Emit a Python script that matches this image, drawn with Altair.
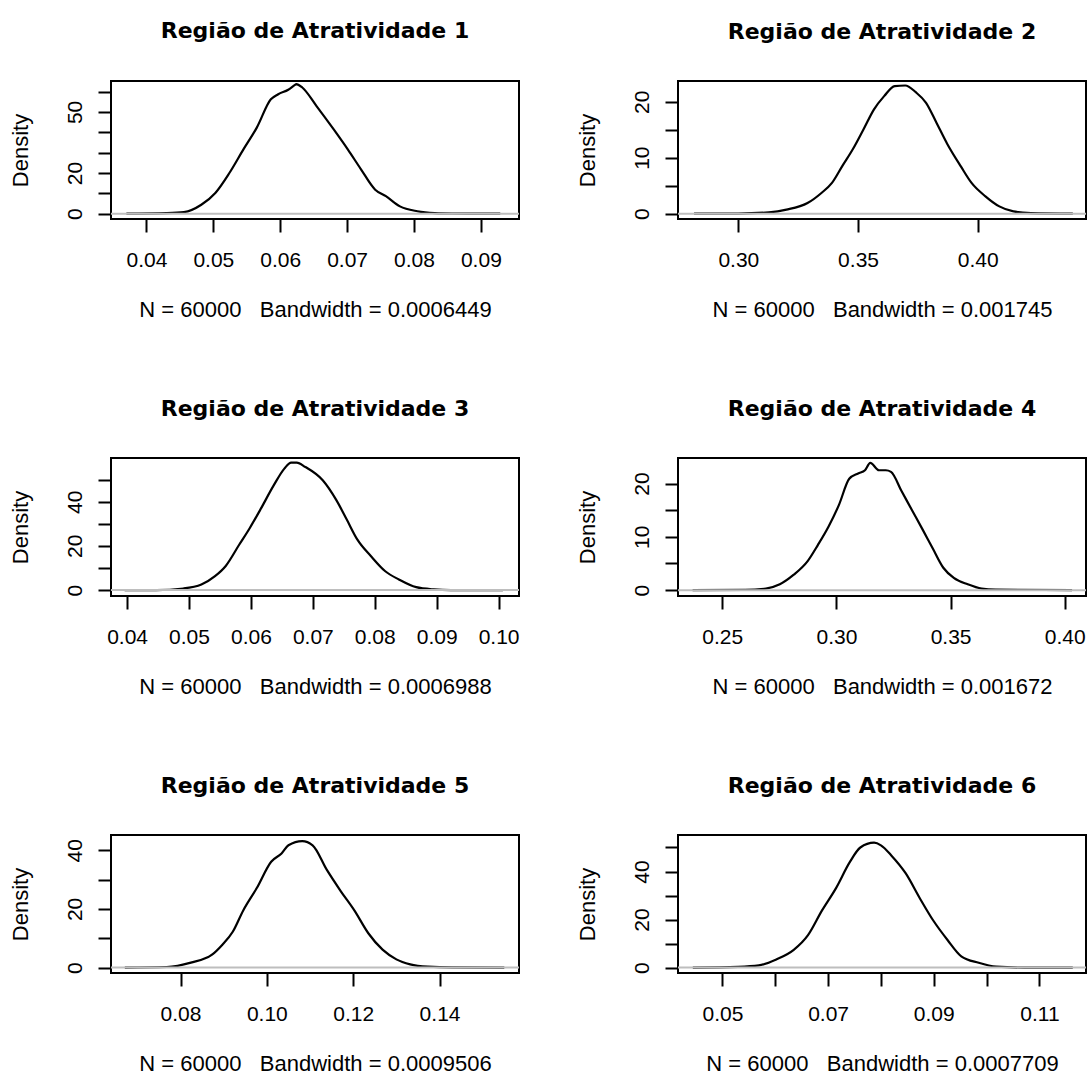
import altair as alt
import pandas as pd

# ---------------- data ----------------
titles = [
    "Região de Atratividade 1", "Região de Atratividade 2",
    "Região de Atratividade 3", "Região de Atratividade 4",
    "Região de Atratividade 5", "Região de Atratividade 6",
]
SP = "\u00a0\u00a0\u00a0"
subtitles = [
    "N = 60000" + SP + "Bandwidth = 0.0006449",
    "N = 60000" + SP + "Bandwidth = 0.001745",
    "N = 60000" + SP + "Bandwidth = 0.0006988",
    "N = 60000" + SP + "Bandwidth = 0.001672",
    "N = 60000" + SP + "Bandwidth = 0.0009506",
    "N = 60000" + SP + "Bandwidth = 0.0007709",
]

p1_x = [0.0370, 0.0430, 0.0456, 0.0482, 0.0503, 0.0524, 0.0545, 0.0565, 0.0586, 0.0597,
        0.0612, 0.0622, 0.0624, 0.0633, 0.0654, 0.0680, 0.0701, 0.0721, 0.0742, 0.0758,
        0.0779, 0.0805, 0.0831, 0.0857, 0.0929]
p1_y = [0.0, 0.3, 0.8, 4.4, 10.2, 20.0, 31.6, 42.3, 56.2, 58.7,
        60.9, 63.3, 63.7, 62.0, 53.0, 41.4, 31.6, 21.7, 11.8, 8.6,
        3.6, 1.2, 0.3, 0.1, 0.0]

p2_x = [0.2815, 0.3000, 0.3128, 0.3201, 0.3289, 0.3347, 0.3391, 0.3434, 0.3478, 0.3522,
        0.3566, 0.3609, 0.3653, 0.3697, 0.3741, 0.3784, 0.3828, 0.3872, 0.3930, 0.3974,
        0.4032, 0.4090, 0.4149, 0.4222, 0.4397]
p2_y = [0.0, 0.02, 0.24, 0.72, 1.9, 3.7, 5.5, 8.5, 11.5, 15.0,
        18.6, 21.0, 22.8, 22.9, 21.7, 19.8, 16.2, 12.5, 8.4, 5.5,
        3.1, 1.3, 0.4, 0.1, 0.0]

p3_x = [0.0396, 0.0447, 0.0491, 0.0520, 0.0542, 0.0559, 0.0581, 0.0598, 0.0615, 0.0637,
        0.0654, 0.0665, 0.0674, 0.0688, 0.0716, 0.0738, 0.0755, 0.0772, 0.0794, 0.0817,
        0.0839, 0.0867, 0.0895, 0.0923, 0.1007]
p3_y = [0.0, 0.0, 0.7, 2.5, 6.3, 10.8, 20.5, 28.0, 36.3, 47.5,
        55.0, 57.7, 57.7, 55.7, 49.7, 40.7, 31.8, 22.8, 15.3, 8.5,
        4.8, 1.3, 0.3, 0.0, 0.0]

p4_x = [0.2370, 0.2600, 0.2691, 0.2752, 0.2813, 0.2873, 0.2919, 0.2965, 0.3011, 0.3056,
        0.3095, 0.3125, 0.3148, 0.3186, 0.3216, 0.3239, 0.3285, 0.3331, 0.3377, 0.3422,
        0.3468, 0.3514, 0.3575, 0.3636, 0.3697, 0.4032]
p4_y = [0.0, 0.05, 0.3, 1.1, 2.9, 5.4, 8.5, 11.9, 16.0, 20.9,
        21.9, 22.5, 23.9, 22.5, 22.5, 22.2, 18.6, 15.0, 11.4, 7.8,
        4.2, 2.3, 1.1, 0.3, 0.1, 0.0]

p5_x = [0.0671, 0.0768, 0.0824, 0.0873, 0.0897, 0.0921, 0.0945, 0.0977, 0.1010, 0.1034,
        0.1050, 0.1082, 0.1106, 0.1139, 0.1171, 0.1203, 0.1235, 0.1268, 0.1300, 0.1332,
        0.1373, 0.1429, 0.1550]
p5_y = [0.0, 0.2, 1.7, 4.4, 7.8, 12.2, 19.4, 27.2, 36.1, 38.9,
        41.7, 43.1, 41.7, 33.3, 26.1, 19.4, 11.7, 6.1, 2.8, 1.1,
        0.3, 0.05, 0.0]

p6_x = [0.0444, 0.0530, 0.0569, 0.0602, 0.0635, 0.0662, 0.0688, 0.0715, 0.0741, 0.0761,
        0.0787, 0.0800, 0.0820, 0.0847, 0.0873, 0.0899, 0.0926, 0.0952, 0.0985, 0.1018,
        0.1071, 0.1163]
p6_y = [0.0, 0.3, 0.9, 3.4, 7.4, 13.5, 23.6, 33.1, 43.9, 50.0,
        52.0, 50.9, 46.6, 39.2, 29.1, 19.6, 11.5, 4.7, 2.0, 0.4,
        0.0, 0.0]

xs = [p1_x, p2_x, p3_x, p4_x, p5_x, p6_x]
ys = [p1_y, p2_y, p3_y, p4_y, p5_y, p6_y]

x_ticks = [
    [0.04, 0.05, 0.06, 0.07, 0.08, 0.09],
    [0.30, 0.35, 0.40],
    [0.04, 0.05, 0.06, 0.07, 0.08, 0.09, 0.10],
    [0.25, 0.30, 0.35, 0.40],
    [0.08, 0.10, 0.12, 0.14],
    [0.05, 0.06, 0.07, 0.08, 0.09, 0.10, 0.11],
]
x_labels = [
    [0.04, 0.05, 0.06, 0.07, 0.08, 0.09],
    [0.30, 0.35, 0.40],
    [0.04, 0.05, 0.06, 0.07, 0.08, 0.09, 0.10],
    [0.25, 0.30, 0.35, 0.40],
    [0.08, 0.10, 0.12, 0.14],
    [0.05, 0.07, 0.09, 0.11],
]
y_ticks = [
    [0, 10, 20, 30, 40, 50, 60],
    [0, 5, 10, 15, 20],
    [0, 10, 20, 30, 40, 50],
    [0, 5, 10, 15, 20],
    [0, 10, 20, 30, 40],
    [0, 10, 20, 30, 40, 50],
]
y_labels = [
    [0, 20, 50],
    [0, 10, 20],
    [0, 20, 40],
    [0, 10, 20],
    [0, 20, 40],
    [0, 20, 40],
]
zero_line = [0]

# scale extents (R's 4% padded ranges)
x_domains = [[0.0347, 0.0957], [0.2748, 0.4452], [0.0374, 0.1033],
             [0.2306, 0.4093], [0.0639, 0.1584], [0.0416, 0.1188]]
y_domains = [[-2.6, 65.2], [-0.95, 23.7], [-2.7, 59.8],
             [-1.1, 24.8], [-1.85, 45.2], [-2.25, 55.2]]

# ---------------- layout / style ----------------
W, H = 408, 138
FONT = "Liberation Sans"


def expr_for(vals):
    arr = ",".join(repr(v) for v in vals)
    return f"indexof([{arr}], datum.value) >= 0 ? datum.label : ''"


def panel(i):
    df = pd.DataFrame({"x": xs[i], "y": ys[i]})
    zdf = pd.DataFrame({"y": zero_line})
    x_axis = alt.Axis(
        values=x_ticks[i], format=".2f", labelExpr=expr_for(x_labels[i]),
        title=subtitles[i], domain=False, grid=False,
        tickSize=13, tickWidth=2, tickColor="black",
        labelFont=FONT, labelFontSize=21, labelColor="black",
        labelPadding=17, labelOverlap=False, labelFlush=False,
        titleFont=FONT, titleFontSize=22, titleFontWeight="normal",
        titleColor="black", titleY=97, titleBaseline="alphabetic",
    )
    y_axis = alt.Axis(
        values=y_ticks[i], format="d", labelExpr=expr_for(y_labels[i]),
        title="Density", domain=False, grid=False,
        tickSize=13, tickWidth=2, tickColor="black",
        labelFont=FONT, labelFontSize=21, labelColor="black",
        labelAngle=270, labelAlign="center", labelBaseline="bottom",
        labelPadding=13, labelOverlap=False, labelFlush=False,
        titleFont=FONT, titleFontSize=22, titleFontWeight="normal",
        titleColor="black", titleAngle=270, titleAlign="center",
        titleBaseline="alphabetic", titleX=-84, titleY=H / 2,
    )
    xs_ = alt.Scale(domain=x_domains[i], nice=False, zero=False)
    ys_ = alt.Scale(domain=y_domains[i], nice=False, zero=False)
    line = alt.Chart(df).mark_line(
        color="black", strokeWidth=2.2, interpolate="monotone"
    ).encode(
        x=alt.X("x:Q", scale=xs_, axis=x_axis),
        y=alt.Y("y:Q", scale=ys_, axis=y_axis),
    )
    zero = alt.Chart(zdf).mark_rule(color="#bebebe", strokeWidth=2).encode(
        y=alt.Y("y:Q", scale=ys_, axis=y_axis)
    )
    return alt.layer(line, zero).properties(
        width=W, height=H,
        title=alt.TitleParams(
            text=titles[i], font="DejaVu Sans", fontSize=22, fontWeight="bold",
            color="black", anchor="middle", frame="group",
            baseline="alphabetic", offset=20,
        ),
    )


chart = alt.concat(
    *[panel(i) for i in range(6)],
    columns=2, spacing={"row": 239, "column": 159}, bounds="flush",
).properties(
    padding={"left": 8, "top": 18, "right": 0, "bottom": 0},
    background="white",
).configure_view(stroke="black", strokeWidth=2)

chart.save("out.html", embed_options={"renderer": "svg", "actions": False})
